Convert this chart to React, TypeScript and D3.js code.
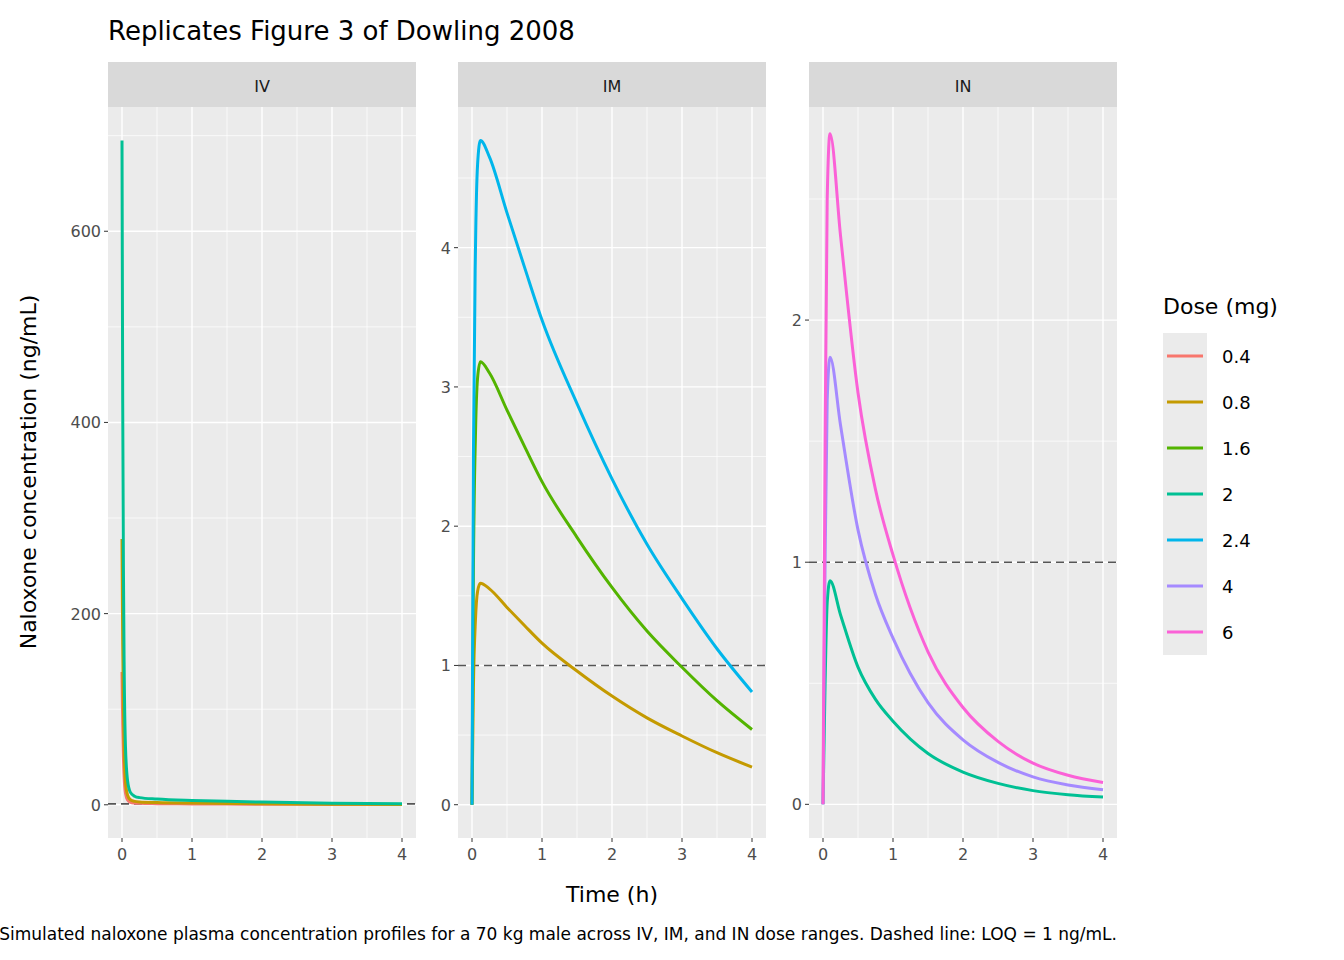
import * as d3 from "d3"

const doses = ["0.4", "0.8", "1.6", "2", "2.4", "4", "6"]
const colors = ["#F8766D", "#C49A00", "#53B400", "#00C094", "#00B6EB", "#A58AFF", "#FB61D7"]

// IV (dose 2 mg); lower doses proportional
const ivTime = [0, 0.01, 0.02, 0.03, 0.05, 0.08, 0.12, 0.18, 0.25, 0.5, 1, 1.5, 2, 3, 4]
const ivConc2 = [695, 420, 250, 150, 60, 25, 13, 9, 7.5, 6, 4.5, 3.6, 2.8, 1.7, 1.0]
const ivDoses = ["0.4", "0.8", "2"]
const ivScale = [0.2, 0.4, 1]

// IM (dose 2.4 mg)
const imTime = [0, 0.02, 0.05, 0.08, 0.12, 0.25, 0.5, 0.75, 1, 1.5, 2, 2.5, 3, 3.5, 4]
const imConc24 = [0, 2.5, 4.0, 4.6, 4.77, 4.65, 4.25, 3.86, 3.48, 2.88, 2.34, 1.87, 1.48, 1.12, 0.81]
const imDoses = ["0.8", "1.6", "2.4"]
const imScale = [1 / 3, 2 / 3, 1]

// IN (dose 6 mg)
const inTime = [0, 0.03, 0.06, 0.1, 0.25, 0.5, 0.75, 1, 1.5, 2, 2.5, 3, 3.5, 4]
const inConc6 = [0, 1.5, 2.5, 2.77, 2.35, 1.7, 1.3, 1.03, 0.63, 0.4, 0.26, 0.17, 0.12, 0.09]
const inDoses = ["2", "4", "6"]
const inScale = [1 / 3, 2 / 3, 1]

const color = d3.scaleOrdinal<string, string>().domain(doses).range(colors)

const panels = [
  { name: "IV", x0: 108, time: ivTime, base: ivConc2, doses: ivDoses, scale: ivScale, y: [-34.75, 730], breaks: [0, 200, 400, 600], minors: [100, 300, 500, 700] },
  { name: "IM", x0: 458, time: imTime, base: imConc24, doses: imDoses, scale: imScale, y: [-0.239, 5.01], breaks: [0, 1, 2, 3, 4], minors: [0.5, 1.5, 2.5, 3.5, 4.5] },
  { name: "IN", x0: 809, time: inTime, base: inConc6, doses: inDoses, scale: inScale, y: [-0.139, 2.88], breaks: [0, 1, 2], minors: [0.5, 1.5, 2.5] },
]

const PW = 308
const TOP = 107
const BOT = 838
const xBreaks = [0, 1, 2, 3, 4]
const xMinors = [0.5, 1.5, 2.5, 3.5]
const font = "DejaVu Sans, sans-serif"

export default function App() {
  return (
    <svg width={1344} height={960} style={{ display: "block", fontFamily: font, position: "absolute", left: 0, top: 0 }}>
      <rect width={1344} height={960} fill="white" />
      <text x={108} y={40} fontSize={26} fill="black">Replicates Figure 3 of Dowling 2008</text>
      {panels.map((p) => {
        const x = d3.scaleLinear().domain([-0.2, 4.2]).range([p.x0, p.x0 + PW])
        const y = d3.scaleLinear().domain(p.y).range([BOT, TOP])
        const line = d3.line<[number, number]>().x((d) => x(d[0])).y((d) => y(d[1])).curve(d3.curveMonotoneX)
        return (
          <g key={p.name}>
            <rect x={p.x0} y={62} width={PW} height={45} fill="#D9D9D9" />
            <text x={p.x0 + PW / 2} y={92} textAnchor="middle" fontSize={16} fill="#1A1A1A">{p.name}</text>
            <rect x={p.x0} y={TOP} width={PW} height={BOT - TOP} fill="#EBEBEB" />
            {p.minors.map((v) => <line key={"ym" + v} x1={p.x0} x2={p.x0 + PW} y1={y(v)} y2={y(v)} stroke="white" strokeWidth={0.7} />)}
            {xMinors.map((v) => <line key={"xm" + v} x1={x(v)} x2={x(v)} y1={TOP} y2={BOT} stroke="white" strokeWidth={0.7} />)}
            {p.breaks.map((v) => <line key={"y" + v} x1={p.x0} x2={p.x0 + PW} y1={y(v)} y2={y(v)} stroke="white" strokeWidth={1.4} />)}
            {xBreaks.map((v) => <line key={"x" + v} x1={x(v)} x2={x(v)} y1={TOP} y2={BOT} stroke="white" strokeWidth={1.4} />)}
            {p.breaks.map((v) => (
              <g key={"yt" + v}>
                <line x1={p.x0 - 4} x2={p.x0} y1={y(v)} y2={y(v)} stroke="#333" />
                <text x={p.x0 - 7} y={y(v) + 6} textAnchor="end" fontSize={16} fill="#4D4D4D">{v}</text>
              </g>
            ))}
            {xBreaks.map((v) => (
              <g key={"xt" + v}>
                <line x1={x(v)} x2={x(v)} y1={BOT} y2={BOT + 4} stroke="#333" />
                <text x={x(v)} y={BOT + 22} textAnchor="middle" fontSize={16} fill="#4D4D4D">{v}</text>
              </g>
            ))}
            <line x1={p.x0} x2={p.x0 + PW} y1={y(1)} y2={y(1)} stroke="#555" strokeWidth={1.6} strokeDasharray="8,5" />
            {p.doses.map((dose, i) => (
              <path key={dose} d={line(p.time.map((t, j) => [t, p.base[j] * p.scale[i]] as [number, number])) || ""}
                fill="none" stroke={color(dose)} strokeWidth={3} />
            ))}
          </g>
        )
      })}
      <text transform="translate(36,472) rotate(-90)" textAnchor="middle" fontSize={22} fill="black">Naloxone concentration (ng/mL)</text>
      <text x={612} y={902} textAnchor="middle" fontSize={22} fill="black">Time (h)</text>
      <text x={1117} y={940} textAnchor="end" fontSize={17} fill="black">Simulated naloxone plasma concentration profiles for a 70 kg male across IV, IM, and IN dose ranges. Dashed line: LOQ = 1 ng/mL.</text>
      <text x={1163} y={314} fontSize={22} fill="black">Dose (mg)</text>
      {doses.map((d, i) => (
        <g key={d} transform={`translate(1163,${333 + i * 46})`}>
          <rect width={44} height={46} fill="#EBEBEB" />
          <line x1={4} x2={40} y1={23} y2={23} stroke={color(d)} strokeWidth={3} />
          <text x={59} y={30} fontSize={18} fill="black">{d}</text>
        </g>
      ))}
    </svg>
  )
}
